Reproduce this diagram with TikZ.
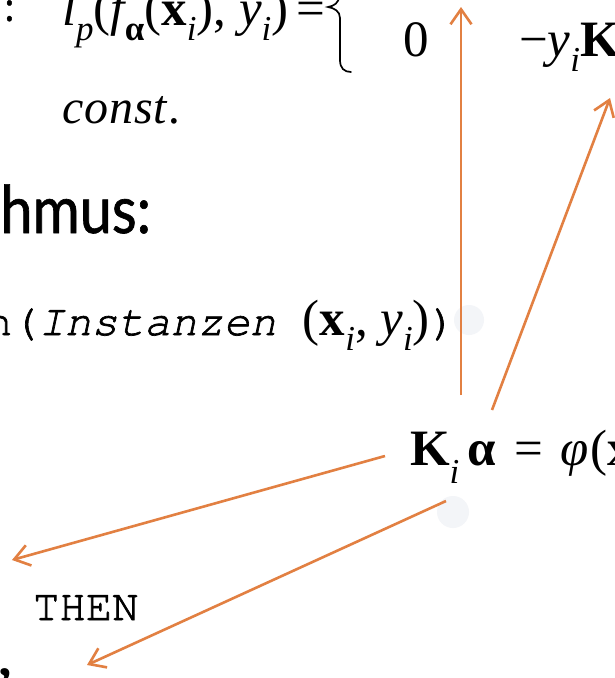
\RequirePackage{fix-cm}
\documentclass[tikz,border=0pt]{standalone}
\usepackage{fontspec}
\newfontfamily\monofont[FakeBold=1.6]{TeX Gyre Cursor}
\newfontfamily\gillfont[FakeStretch=0.87,FakeBold=1]{Lato}
\newfontfamily\serifT{Liberation Serif}
\usetikzlibrary{arrows.meta}
\definecolor{arrowor}{RGB}{226,128,66}
\definecolor{wmark}{RGB}{243,245,248}
\newcommand\Sb[2][0.3]{\raisebox{-#1em}{\fontsize{35}{35}\selectfont\itshape #2}}
\newcommand\fml{\serifT\fontsize{51}{55}\selectfont}
\begin{document}
\begin{tikzpicture}[x=1pt,y=-1pt,
  lbl/.style={inner sep=0pt, outer sep=0pt},
  conn/.style={draw=arrowor, line width=2.6pt,
    -{Straight Barb[length=15pt,width=21pt,line width=2.6pt]}},
  bracepath/.style={draw=black, line width=1.7pt, line cap=round},
  ]
\useasboundingbox (0,0) rectangle (615,678);
\clip (0,0) rectangle (615,678);
\fill[white] (0,0) rectangle (615,678);
\fill[wmark] (469,320) circle[radius=15pt];
\fill[wmark] (453,512) circle[radius=16pt];

\node[lbl, anchor=base east] (colon) at (14,21) {\gillfont\fontsize{42}{44}\selectfont :};
\node[lbl, anchor=base west] (loss) at (62,25) {\fml {\itshape l}\Sb{p}({\itshape f}\Sb{\upshape\bfseries α}(\textbf{x}\Sb{i}), {\itshape y}\Sb{i})\,=};
\path[bracepath] (339,-20) -- (339,-4) .. controls (339,3) and (334,6) .. (328,7)
   .. controls (334,8) and (340,11) .. (340,18) -- (340,60)
   .. controls (340,68) and (344,72) .. (351,72);
\node[lbl, anchor=base west] (zero) at (403,56) {\fml 0};
\node[lbl, anchor=base west] (neg) at (519,56) {\fml −{\itshape y}\Sb{i}\textbf{K}};
\node[lbl, anchor=base west] (const) at (62,123) {\serifT\fontsize{48}{52}\selectfont\itshape c\kern1pt o\kern1pt n\kern1pt s\kern1pt t\kern2pt.};
\node[lbl, anchor=base east] (algo) at (151,233) {\gillfont\fontsize{66}{70}\selectfont hmus:};
\node[lbl, anchor=base west] (call) at (-14,335) {\fontsize{44}{46}\selectfont\monofont n(\itshape Instanzen\upshape\ {\fml (\textbf{x}\Sb{i}, {\itshape y}\Sb{i})})};
\node[lbl, anchor=base west] (kform) at (410,465) {\fml \textbf{K}\Sb[0.36]{i}\,\textbf{α}\hspace{5pt} = \hspace{5pt}{\itshape φ\/}\kern2pt(\textbf{x}\Sb{i})};
\node[lbl, anchor=base west] (then) at (33,620) {\fontsize{44}{46}\selectfont\monofont THEN};
\node[lbl, anchor=base east] (wfrag) at (13,702) {\fml\bfseries w’};

\coordinate (a1s) at (461,395); \coordinate (a1e) at (461,7);
\coordinate (a2s) at (492,410); \coordinate (a2e) at (610,98);
\coordinate (a3s) at (385,456); \coordinate (a3e) at (12,560);
\coordinate (a4s) at (446,501); \coordinate (a4e) at (87,665);
\draw[conn] (a1s) -- (a1e);
\draw[conn] (a2s) -- (a2e);
\draw[conn] (a3s) -- (a3e);
\draw[conn] (a4s) -- (a4e);
\end{tikzpicture}
\end{document}
